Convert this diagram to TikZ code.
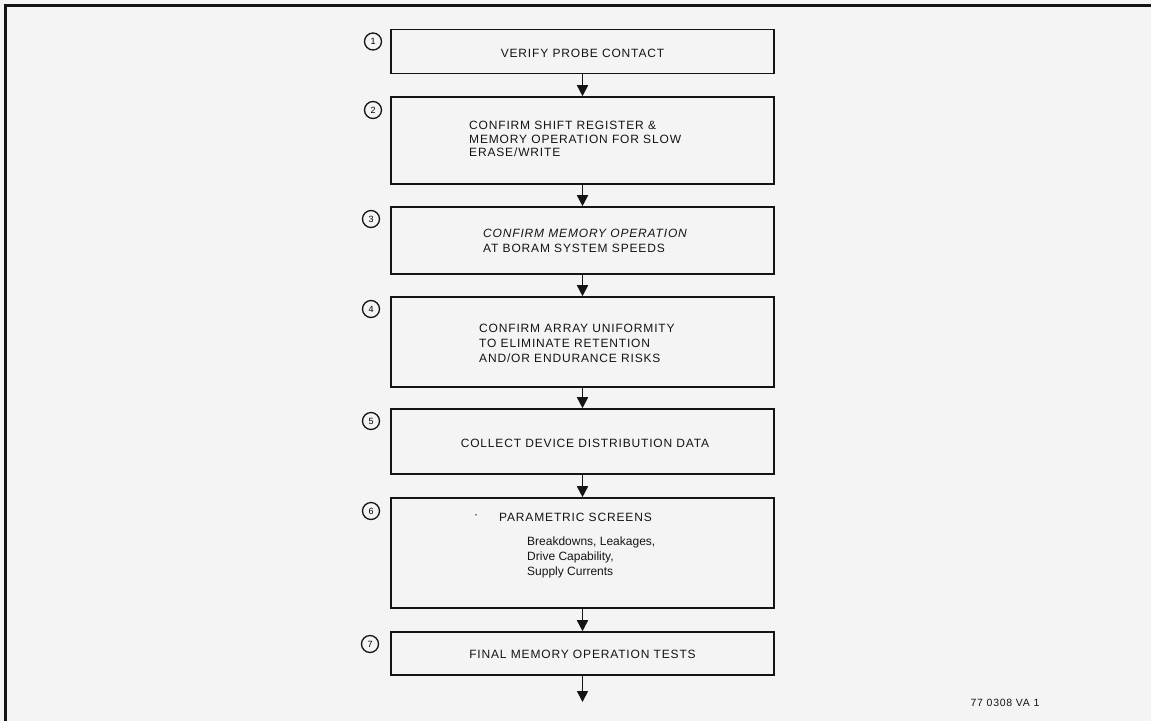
\documentclass[tikz,border=0pt]{standalone}
\usepackage{fontspec}
\setmainfont{Liberation Sans}
\newfontfamily\capsfont[LetterSpace=7]{Liberation Sans}
\usetikzlibrary{arrows.meta}
\definecolor{paper}{RGB}{244,244,244}
\definecolor{ink}{RGB}{20,20,20}
\begin{document}
\begin{tikzpicture}[x=1pt,y=-1pt,
  stepbox/.style={draw=ink, line width=1.6pt, minimum width=383pt, inner sep=0pt},
  num/.style={circle, draw=ink, line width=1.3pt, minimum size=17pt, inner sep=0pt, font=\fontsize{9}{10}\selectfont},
  lbl/.style={font=\capsfont\fontsize{12}{15}\selectfont, text=ink, inner sep=0pt, align=left},
  lbltight/.style={lbl, font=\capsfont\fontsize{12}{13.5}\selectfont},
  plain/.style={font=\fontsize{12}{15}\selectfont, text=ink, inner sep=0pt, align=left},
  flow/.style={draw=ink, line width=1.6pt, -{Triangle[length=11pt,width=11pt]}}]
\fill[paper] (0,0) rectangle (1151,721);
\useasboundingbox (0,0) rectangle (1151,721);
\draw[ink, line width=3pt] (5,721) -- (5,5) -- (1151,5);

% boxes
\node[stepbox, minimum height=44pt] (b1) at (582.5,51.5) {};
\node[stepbox, minimum height=87pt] (b2) at (582.5,140.5) {};
\node[stepbox, minimum height=67pt] (b3) at (582.5,240.5) {};
\node[stepbox, minimum height=90pt] (b4) at (582.5,342) {};
\node[stepbox, minimum height=65pt] (b5) at (582.5,441.5) {};
\node[stepbox, minimum height=110pt] (b6) at (582.5,553) {};
\node[stepbox, minimum height=43pt] (b7) at (582.5,653.5) {};

% step numbers
\node[num] (n1) at (373,41.5) {1};
\node[num] (n2) at (373,110) {2};
\node[num] (n3) at (371,219) {3};
\node[num] (n4) at (371,309) {4};
\node[num] (n5) at (371,421) {5};
\node[num] (n6) at (371,511) {6};
\node[num] (n7) at (370,644) {7};

% texts
\node[lbl] (t1) at (582.5,53) {VERIFY PROBE CONTACT};
\node[lbltight, anchor=west] (t2) at (469,139) {CONFIRM SHIFT REGISTER \&\\MEMORY OPERATION FOR SLOW\\ERASE/WRITE};
\node[lbl, anchor=west] (t3) at (483,240.5) {\itshape CONFIRM MEMORY OPERATION\\AT BORAM SYSTEM SPEEDS};
\node[lbl, anchor=west] (t4) at (479,343) {CONFIRM ARRAY UNIFORMITY\\TO ELIMINATE RETENTION\\AND/OR ENDURANCE RISKS};
\node[lbl] (t5) at (585,443) {COLLECT DEVICE DISTRIBUTION DATA};
\node[lbl] (dot) at (476,517) {·};
\node[lbl, anchor=west] (t6) at (499,517) {PARAMETRIC SCREENS};
\node[plain, anchor=west] (t6b) at (527,557) {Breakdowns, Leakages,\\Drive Capability,\\Supply Currents};
\node[lbl] (t7) at (582.5,654) {FINAL MEMORY OPERATION TESTS};
\node[lbl, font=\capsfont\fontsize{10.5}{12}\selectfont] (code) at (1005,703) {77 0308 VA 1};

% connectors
\coordinate (end) at (582.5,702);
\draw[flow] (b1.south) -- (b2.north);
\draw[flow] (b2.south) -- (b3.north);
\draw[flow] (b3.south) -- (b4.north);
\draw[flow] (b4.south) -- (b5.north);
\draw[flow] (b5.south) -- (b6.north);
\draw[flow] (b6.south) -- (b7.north);
\draw[flow] (b7.south) -- (end);
\end{tikzpicture}
\end{document}
